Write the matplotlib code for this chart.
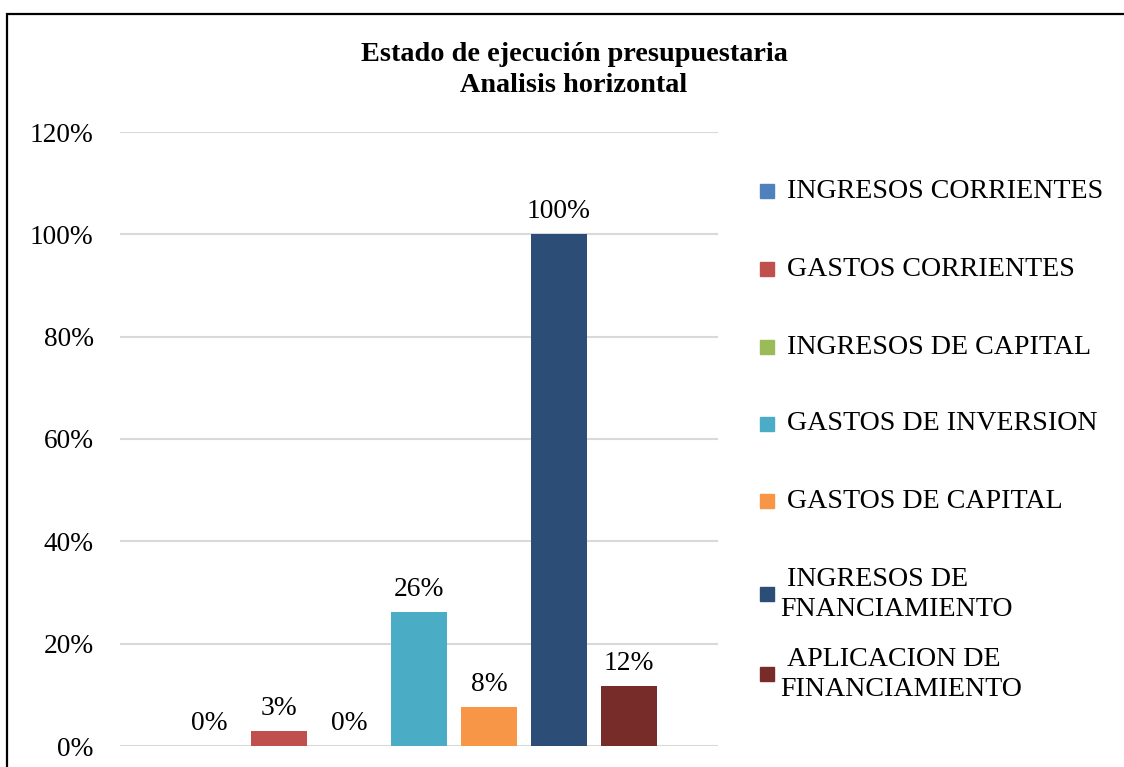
import numpy as np
import matplotlib.pyplot as plt
from matplotlib.patches import Rectangle

plt.rcParams['font.family'] = ['Liberation Serif', 'DejaVu Serif']

# series (one bar each, single category)
series = ['INGRESOS CORRIENTES', 'GASTOS CORRIENTES', 'INGRESOS DE CAPITAL',
          'GASTOS DE INVERSION', 'GASTOS DE CAPITAL',
          'INGRESOS DE\nFNANCIAMIENTO', 'APLICACION DE\nFINANCIAMIENTO']
values = [0.0, 0.029, 0.0, 0.262, 0.076, 1.0, 0.117]
labels = ['0%', '3%', '0%', '26%', '8%', '100%', '12%']
colors = ['#4F81BD', '#C0504D', '#9BBB59', '#4BACC6', '#F79646', '#2C4D75', '#772C2A']
yticks = [0, 0.2, 0.4, 0.6, 0.8, 1.0, 1.2]
ytick_labels = ['0%', '20%', '40%', '60%', '80%', '100%', '120%']

W, H = 1124, 767
fig = plt.figure(figsize=(W / 100, H / 100), dpi=100)
ax = fig.add_axes([120 / W, 21 / H, 598 / W, 614 / H])

x = np.arange(len(values))
bars = ax.bar(x, values, width=0.8, color=colors, zorder=3)
for b, lab in zip(bars, labels):
    ax.annotate(lab, (b.get_x() + b.get_width() / 2, b.get_height()),
                xytext=(0, 11.5), textcoords='offset points',
                ha='center', va='baseline', fontsize=19.8)

ax.set_xlim(-1.271, 7.271)
ax.set_ylim(0, 1.2)
ax.set_yticks(yticks)
ax.set_yticklabels(ytick_labels)
ax.set_xticks([])
ax.tick_params(axis='y', length=0, pad=19, labelsize=19.7)
ax.grid(axis='y', color='#D9D9D9', linewidth=1.5, zorder=0)
for s in ax.spines.values():
    s.set_visible(False)

# title
fig.text(574 / W, 1 - 70 / H, 'Estado de ejecución presupuestaria\nAnalisis horizontal',
         ha='center', va='center', fontsize=20.3, fontweight='bold', linespacing=1.35)

# legend
leg_y = [191, 269, 347, 424, 501, 594, 674]
for name, c, yy in zip(series, colors, leg_y):
    fig.patches.append(Rectangle((760 / W, 1 - (yy + 7) / H), 14 / W, 14 / H,
                                 transform=fig.transFigure, color=c))
    lines = name.split('\n')
    if len(lines) == 1:
        fig.text(787 / W, 1 - yy / H, name, ha='left', va='center', fontsize=20.2)
    else:
        fig.text(787 / W, 1 - (yy - 15) / H, lines[0], ha='left', va='center', fontsize=20.2)
        fig.text(780 / W, 1 - (yy + 15) / H, lines[1], ha='left', va='center', fontsize=20.2)

# chart border
fig.patches.append(Rectangle((7 / W, -0.1), 1.2, 1.1 - 14 / H, transform=fig.transFigure,
                             fill=False, edgecolor='black', linewidth=1.6))

fig.savefig('out.png', dpi=100)
